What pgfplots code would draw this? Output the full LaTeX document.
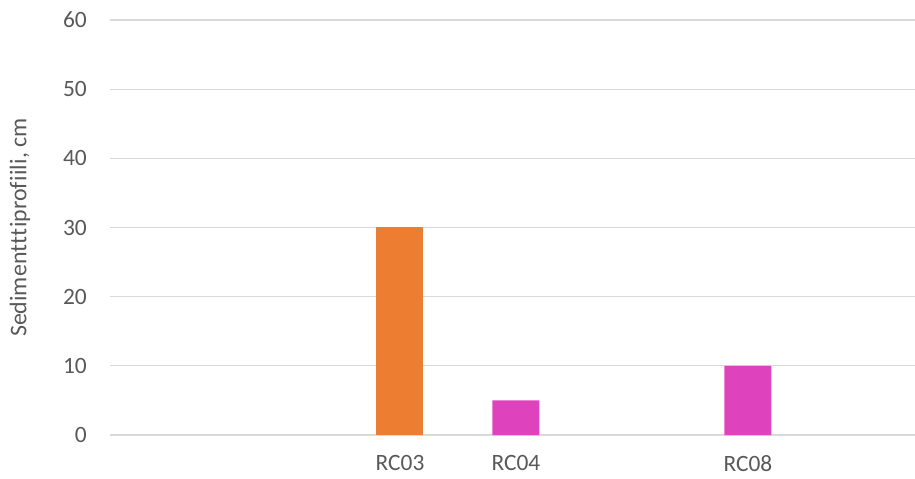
\documentclass[border=0pt]{standalone}
\usepackage{fontspec}
\setmainfont[Ligatures={NoCommon,NoRequired,NoContextual}]{Carlito}
\usepackage{pgfplots}
\pgfplotsset{compat=1.18}
\definecolor{bargold}{HTML}{ED7D31}
\definecolor{barmag}{HTML}{DE42BC}
\definecolor{gridc}{HTML}{D9D9D9}
\definecolor{txt}{HTML}{595959}
\begin{document}
\begin{tikzpicture}
\begin{axis}[
  scale only axis,
  width=805bp, height=415bp,
  xmin=-0.5, xmax=6.44,
  ymin=0, ymax=60,
  ytick={0,10,20,30,40,50,60},
  xtick={2,3,5},
  xticklabels={RC03,RC04,RC08},
  axis line style={draw=none},
  major tick length=0pt,
  tick style={draw=none},
  ymajorgrids,
  grid style={gridc, line width=1.3bp},
  font=\fontsize{23.5}{27}\selectfont,
  tick label style={txt},
  yticklabel style={inner sep=0pt, anchor=east},
  yticklabel shift=23bp,
  xticklabel style={inner sep=0pt, anchor=north},
  xticklabel shift=20bp,
  /pgf/number format/assume math mode=true,
  ylabel={Sediment\kern0.3bp t\kern0.3bp t\kern0.3bp iprof\kern0.3bp i\kern0.3bp i\kern0.3bp l\kern0.3bp i, cm},
  every axis y label/.style={at={(axis description cs:0,0.5)}, xshift=-90bp, rotate=90, anchor=center, txt, font=\fontsize{24}{27}\selectfont},
  ybar, bar width=47bp,
  clip=false,
]
\addplot[fill=bargold, draw=none, bar shift=0pt] coordinates {(2,30)};
\addplot[fill=barmag, draw=none, bar shift=0pt] coordinates {(3,5) (5,10)};
\end{axis}
\pgfresetboundingbox
\path[use as bounding box] (-110bp,-44bp) rectangle (805bp,435bp);
\end{tikzpicture}
\end{document}
